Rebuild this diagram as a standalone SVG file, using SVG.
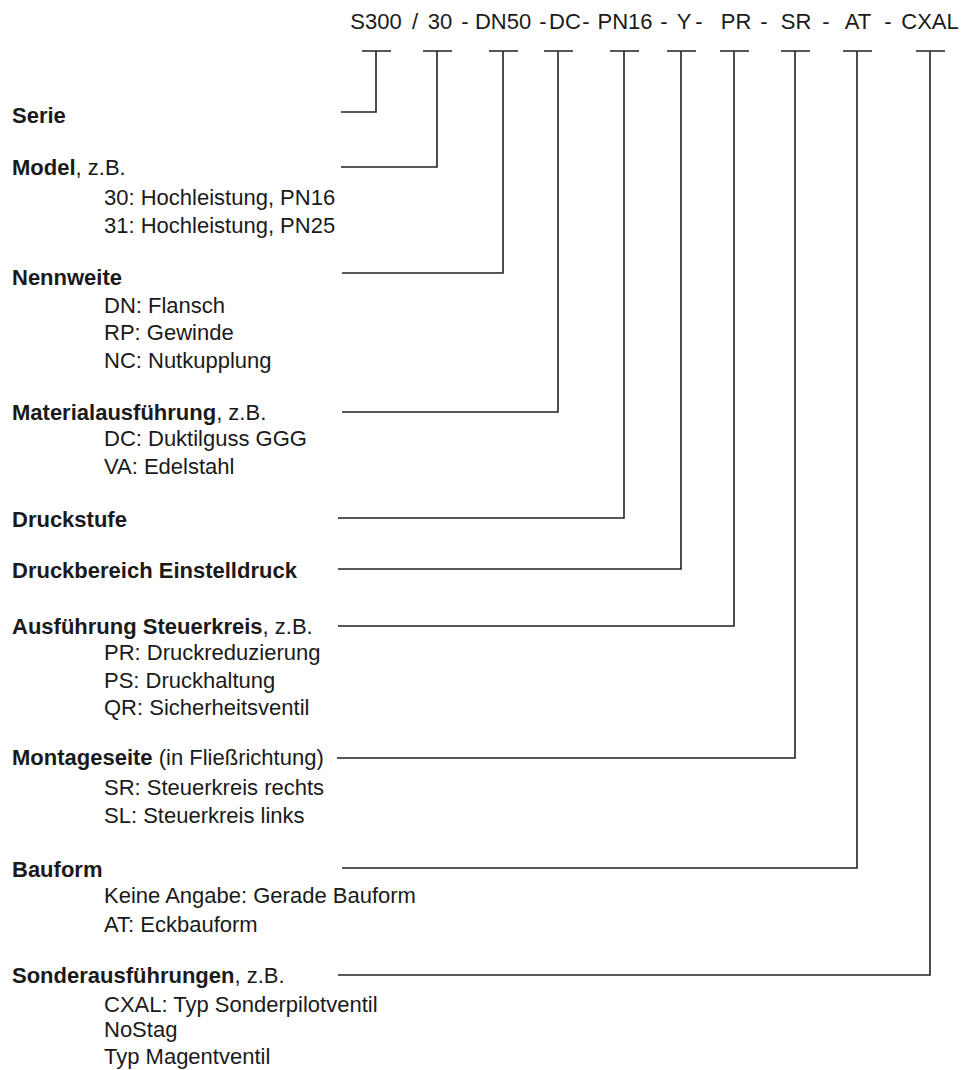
<svg xmlns="http://www.w3.org/2000/svg" width="962" height="1070" viewBox="0 0 962 1070">
<style>
text{font-family:"Liberation Sans",Arial,sans-serif;font-size:22px;fill:#1a1a1a}
.b{font-weight:bold}
.h text,.h{text-anchor:middle}
.c{fill:none;stroke:#222;stroke-width:1.6}
</style>
<rect width="962" height="1070" fill="#fff"/>
<g id="code" class="h">
<text y="29"><tspan x="376">S300</tspan><tspan x="415">/</tspan><tspan x="440">30</tspan><tspan x="465">-</tspan><tspan x="503">DN50</tspan><tspan x="543">-</tspan><tspan x="565">DC</tspan><tspan x="586">-</tspan><tspan x="625">PN16</tspan><tspan x="664">-</tspan><tspan x="684">Y</tspan><tspan x="699">-</tspan><tspan x="736">PR</tspan><tspan x="764">-</tspan><tspan x="796">SR</tspan><tspan x="826">-</tspan><tspan x="858">AT</tspan><tspan x="888">-</tspan><tspan x="930">CXAL</tspan></text>
</g>
<g id="serie"><text x="12" y="123" class="b">Serie</text></g>
<g id="model"><text x="12" y="175"><tspan class="b">Model</tspan>, z.B.</text>
<text x="104" y="205">30: Hochleistung, PN16</text>
<text x="104" y="233">31: Hochleistung, PN25</text></g>
<g id="nennweite"><text x="12" y="285" class="b">Nennweite</text>
<text x="104" y="313">DN: Flansch</text>
<text x="104" y="340">RP: Gewinde</text>
<text x="104" y="368">NC: Nutkupplung</text></g>
<g id="material"><text x="12" y="420"><tspan class="b">Materialausführung</tspan>, z.B.</text>
<text x="104" y="446">DC: Duktilguss GGG</text>
<text x="104" y="474">VA: Edelstahl</text></g>
<g id="druckstufe"><text x="12" y="527" class="b">Druckstufe</text></g>
<g id="druckbereich"><text x="12" y="578" class="b">Druckbereich Einstelldruck</text></g>
<g id="steuerkreis"><text x="12" y="634"><tspan class="b">Ausführung Steuerkreis</tspan>, z.B.</text>
<text x="104" y="660">PR: Druckreduzierung</text>
<text x="104" y="688">PS: Druckhaltung</text>
<text x="104" y="715">QR: Sicherheitsventil</text></g>
<g id="montageseite"><text x="12" y="765"><tspan class="b">Montageseite</tspan> (in Fließrichtung)</text>
<text x="104" y="795">SR: Steuerkreis rechts</text>
<text x="104" y="823">SL: Steuerkreis links</text></g>
<g id="bauform"><text x="12" y="877" class="b">Bauform</text>
<text x="104" y="903">Keine Angabe: Gerade Bauform</text>
<text x="104" y="932">AT: Eckbauform</text></g>
<g id="sonder"><text x="12" y="983"><tspan class="b">Sonderausführungen</tspan>, z.B.</text>
<text x="104" y="1012">CXAL: Typ Sonderpilotventil</text>
<text x="104" y="1037">NoStag</text>
<text x="104" y="1064">Typ Magentventil</text></g>
<g id="connectors" class="c">
<path d="M341 112H376V51M362 51H391"/>
<path d="M341 167H437V51M423 51H452"/>
<path d="M342 273H503V51M489 51H518"/>
<path d="M342 412H558V51M544 51H573"/>
<path d="M338 518H624V51M610 51H639"/>
<path d="M338 569H681V51M667 51H696"/>
<path d="M338 626H734V51M720 51H749"/>
<path d="M337 758H795V51M781 51H810"/>
<path d="M342 868H857V51M843 51H872"/>
<path d="M338 975H930V51M916 51H945"/>
</g>
</svg>
